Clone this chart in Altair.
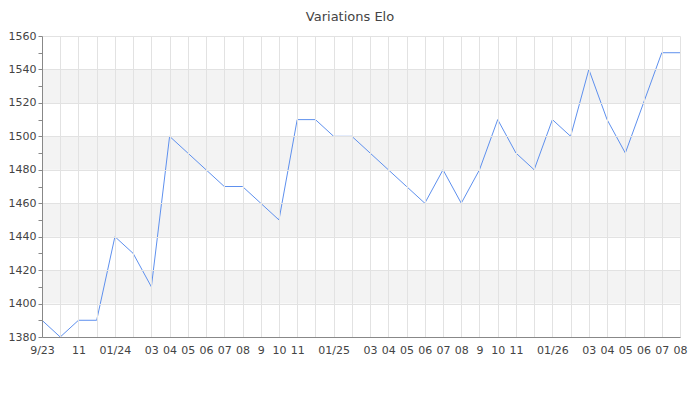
import altair as alt
import pandas as pd

month_labels = ["9/23", "", "11", "", "01/24", "", "03", "04", "05", "06", "07", "08",
                "9", "10", "11", "", "01/25", "", "03", "04", "05", "06", "07", "08",
                "9", "10", "11", "", "01/26", "", "03", "04", "05", "06", "07", "08"]
elo = [1390, 1380, 1390, 1390, 1440, 1430, 1410, 1500, 1490, 1480, 1470, 1470,
       1460, 1450, 1510, 1510, 1500, 1500, 1490, 1480, 1470, 1460, 1480, 1460,
       1480, 1510, 1490, 1480, 1510, 1500, 1540, 1510, 1490, 1520, 1550, 1550]
band_lo = [1400, 1440, 1480, 1520]
band_hi = [1420, 1460, 1500, 1540]
y_ticks = list(range(1380, 1561, 10))

df = pd.DataFrame({"idx": list(range(len(elo))), "elo": elo})
bands = pd.DataFrame({"lo": band_lo, "hi": band_hi})

label_js = "[" + ",".join("'" + s + "'" for s in month_labels) + "]"

W = 638
xscale = alt.Scale(domain=[0, len(elo) - 1], nice=False, zero=False)
yscale = alt.Scale(domain=[1380, 1560], nice=False, zero=False)

x_axis = alt.Axis(values=list(range(len(elo))), labelExpr=label_js + "[datum.value]",
                  labelOverlap=False, ticks=False, labelPadding=7,
                  grid=True, gridColor="#e2e2e2", domainColor="#888888",
                  labelFont="DejaVu Sans", labelFontSize=11, labelColor="#444444",
                  labelFlush=False, zindex=1)
y_axis = alt.Axis(values=y_ticks, format="d",
                  labelExpr="datum.value % 20 == 0 ? datum.label : ''",
                  gridOpacity={"condition": {"test": "datum.value % 20 == 0", "value": 1}, "value": 0},
                  gridColor="#e2e2e2", domainColor="#888888", tickColor="#888888",
                  tickSize=4, labelPadding=2, labelOverlap=False,
                  labelFont="DejaVu Sans", labelFontSize=11, labelColor="#444444",
                  labelFlush=False, zindex=1)

band_layer = alt.Chart(bands).mark_rect(color="#f3f3f3").encode(
    y=alt.Y("lo:Q", scale=yscale, axis=y_axis, title=None),
    y2="hi:Q",
    x=alt.value(0),
    x2=alt.value(W),
)

line = alt.Chart(df).mark_line(color="#5e90ee", strokeWidth=1).encode(
    x=alt.X("idx:Q", scale=xscale, title=None, axis=x_axis),
    y=alt.Y("elo:Q", scale=yscale, title=None, axis=y_axis),
)

chart = alt.layer(band_layer, line).properties(
    width=W, height=301,
    title=alt.TitleParams("Variations Elo", font="DejaVu Sans", fontSize=13,
                          fontWeight="normal", color="#444444", anchor="middle",
                          offset=6, dx=-11),
    autosize=alt.AutoSizeParams(type="none"),
    padding={"left": 34, "top": 28, "right": 12, "bottom": 50},
).configure_view(stroke=None)

chart.save("out.html", embed_options={"renderer": "svg", "actions": False})
